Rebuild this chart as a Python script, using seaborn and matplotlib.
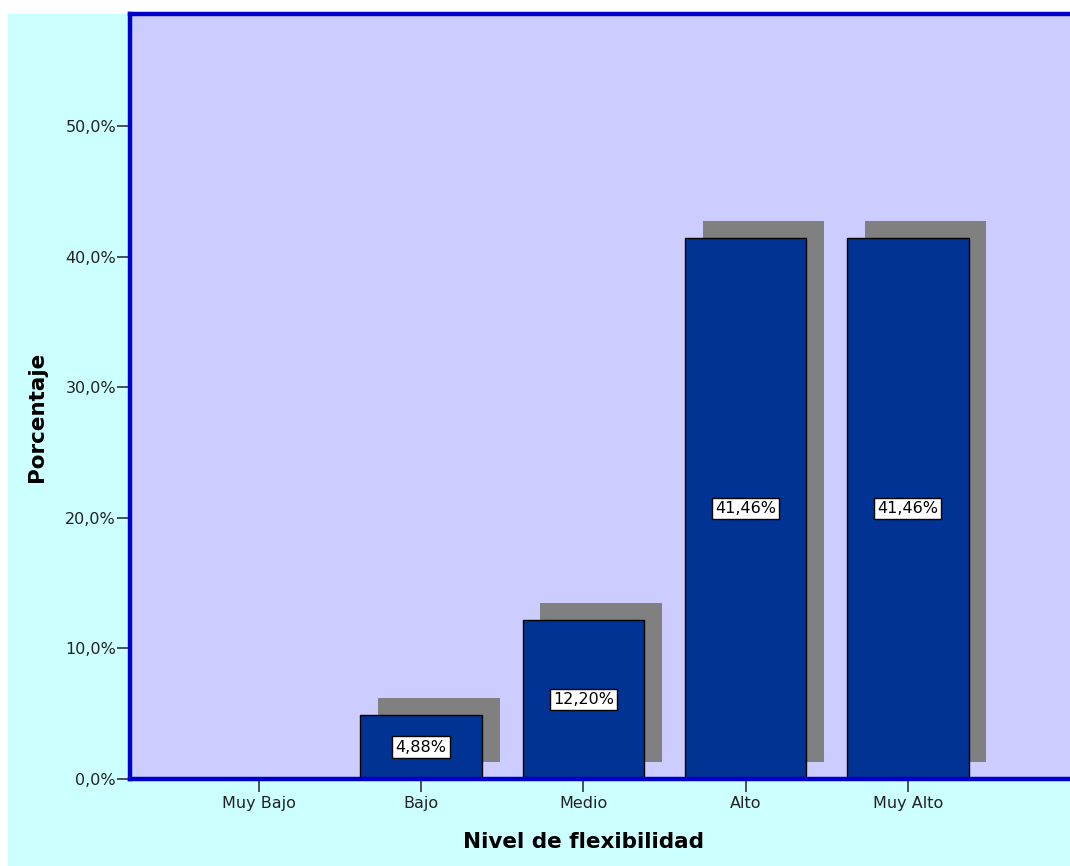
import numpy as np
import seaborn as sns
import matplotlib.pyplot as plt
from matplotlib.patches import Rectangle
from matplotlib.ticker import FuncFormatter

categories = ["Muy Bajo", "Bajo", "Medio", "Alto", "Muy Alto"]
percentages = [0.0, 4.88, 12.20, 41.46, 41.46]
y_ticks = [0, 10, 20, 30, 40, 50]

sns.set_style("white")
plt.rcParams['font.family'] = ['DejaVu Sans']

fig = plt.figure(figsize=(10.7, 8.66), dpi=100, facecolor="white")
# cyan panel behind everything (leaves a thin white strip top/left)
fig.patches.append(Rectangle((8 / 1070, 0), 1, 1 - 14 / 866, transform=fig.transFigure,
                             facecolor="#CCFFFF", edgecolor="none", zorder=-10))

ax = fig.add_axes([130 / 1070, 1 - 779 / 866, 1 - 130 / 1070, (779 - 14) / 866])
ax.set_zorder(1)
ax.set_facecolor("#CCCCFF")

# drop shadows
xpos = np.arange(len(categories))
ax.bar(xpos + 0.11, percentages, bottom=1.3, width=0.75, color="#808080",
       edgecolor="none", zorder=2)

sns.barplot(x=categories, y=percentages, color="#003393", saturation=1,
            width=0.75, edgecolor="black", linewidth=1, ax=ax, zorder=3)

for i, v in enumerate(percentages):
    if v > 0:
        ax.text(i, v / 2, f"{v:.2f}%".replace(".", ","), ha="center", va="center",
                fontsize=11.5, color="black", zorder=5,
                bbox=dict(boxstyle="square,pad=0.2", facecolor="white",
                          edgecolor="black", linewidth=1))

ax.set_xlim(-0.795, 5.0)
ax.set_ylim(0, 58.6)
ax.set_yticks(y_ticks)
ax.yaxis.set_major_formatter(FuncFormatter(lambda v, p: f"{v:.1f}%".replace(".", ",")))

for side in ["left", "bottom", "top"]:
    ax.spines[side].set_color("#0000CC")
    ax.spines[side].set_linewidth(3.2)
    ax.spines[side].set_zorder(6)
ax.spines["right"].set_visible(False)

ax.tick_params(axis="both", which="major", direction="out", length=9.5, width=1.2,
               color="#333333", labelsize=11.5, labelcolor="#222222",
               left=True, bottom=True)
ax.tick_params(axis="y", pad=0.5)
ax.tick_params(axis="x", pad=3)

ax.set_xlabel("Nivel de flexibilidad", fontsize=15.5, fontweight="bold", color="black")
ax.set_ylabel("Porcentaje", fontsize=15.5, fontweight="bold", color="black")
ax.xaxis.set_label_coords(0.4824, -0.069)
ax.yaxis.set_label_coords(-0.088, 0.473)

plt.savefig("out.png", dpi=100, facecolor=fig.get_facecolor())
